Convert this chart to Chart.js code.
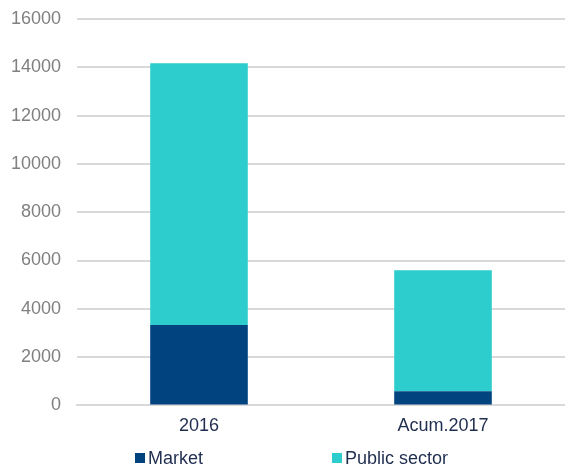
<!DOCTYPE html>
<html>
<head>
<meta charset="utf-8">
<script src="https://cdn.jsdelivr.net/npm/chart.js@4"></script>
<style>
  html, body { margin: 0; padding: 0; background: #fff; }
  #wrap { width: 565px; height: 468px; }
</style>
</head>
<body>
<div id="wrap"><canvas id="Chart" width="565" height="468"></canvas></div>
<script>
const categories = ['2016', 'Acum.2017'];
const marketValues = [3330, 590];
const publicValues = [10840, 5010];
const yTicks = [0, 2000, 4000, 6000, 8000, 10000, 12000, 14000, 16000];

const FONT = 'Arial, "Liberation Sans", sans-serif';

// legend drawn by hand so the two items can sit far apart like the original
const wideLegend = {
  id: 'wideLegend',
  afterDraw(chart) {
    const c = chart.ctx;
    const box = 10;
    const step = 197;
    const n = chart.data.datasets.length;
    c.save();
    c.font = '18px ' + FONT;
    c.textBaseline = 'middle';
    const lastW = c.measureText(chart.data.datasets[n - 1].label).width;
    const total = step * (n - 1) + box + 3 + lastW;
    let x = Math.round((chart.width - total) / 2) + 9;
    const y = 458;
    chart.data.datasets.forEach(ds => {
      c.fillStyle = ds.backgroundColor;
      c.fillRect(x, y - box / 2, box, box);
      c.fillStyle = '#1f2d4f';
      c.fillText(ds.label, x + box + 3, y + 1);
      x += step;
    });
    c.restore();
  }
};

const ctx = document.getElementById('Chart');
const myChart = new Chart(ctx, {
  type: 'bar',
  data: {
    labels: categories,
    datasets: [
      {
        label: 'Market',
        data: marketValues,
        backgroundColor: '#00437f',
        categoryPercentage: 1,
        barPercentage: 0.4
      },
      {
        label: 'Public sector',
        data: publicValues,
        backgroundColor: '#2ecdcd',
        categoryPercentage: 1,
        barPercentage: 0.4
      }
    ]
  },
  options: {
    responsive: false,
    animation: false,
    layout: { padding: { top: 19, right: 0, left: 0, bottom: 21 } },
    plugins: {
      tooltip: { enabled: false },
      legend: { display: false }
    },
    scales: {
      x: {
        stacked: true,
        grid: { display: false, drawTicks: false },
        border: { color: '#d9d9d9', width: 2 },
        ticks: {
          color: '#1f2d4f',
          padding: 10,
          font: { family: FONT, size: 18 }
        }
      },
      y: {
        stacked: true,
        min: 0,
        max: 16000,
        afterBuildTicks: function (axis) {
          axis.ticks = yTicks.map(v => ({ value: v }));
        },
        afterFit: function (axis) {
          axis.width = 77;
          axis.paddingTop = 0;
        },
        grid: { color: '#d9d9d9', lineWidth: 2, drawTicks: false },
        border: { display: false },
        ticks: {
          autoSkip: false,
          color: '#808080',
          padding: 16,
          font: { family: FONT, size: 18 },
          callback: v => String(v)
        }
      }
    }
  },
  plugins: [wideLegend]
});
</script>
</body>
</html>
